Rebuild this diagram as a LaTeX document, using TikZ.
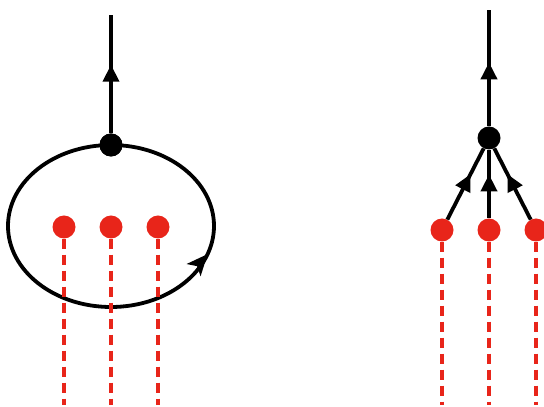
\documentclass[tikz,border=0pt]{standalone}
\usepackage{amsmath}
\usepackage{xcolor}
\usetikzlibrary{arrows.meta,decorations.markings}
\definecolor{cutred}{HTML}{E8251A}

\begin{document}
\begin{tikzpicture}[x=1pt,y=1pt,
  blackdot/.style={circle,fill=black,inner sep=0pt,minimum size=23pt},
  reddot/.style={circle,fill=cutred,inner sep=0pt,minimum size=23pt},
  cut/.style={cutred,line width=3.8pt,dash pattern=on 10pt off 6pt},
  midarrow/.style={decoration={markings,
      mark=at position #1 with {\arrow{Triangle[length=17pt,width=16pt]}}},
    postaction={decorate}},
  leg/.style={line width=3.8pt}]
\useasboundingbox (0,0) rectangle (544,407);
% left: loop around three cuts
\node[blackdot] (v) at (111,262) {};
\coordinate (top1) at (111,392);
\draw[leg,midarrow=0.58] (v) -- (top1);
\draw[leg,decoration={markings,
      mark=at position 0.70 with {\pgftransformrotate{-16}%
        \arrow{Stealth[length=21pt,width=18pt,inset=5pt]}}},
    postaction={decorate}]
  (v.center) arc[start angle=90,end angle=450,x radius=103,y radius=81];
\node[blackdot] at (v) {};
\foreach \i/\x in {1/64,2/111,3/158}{
  \node[reddot] (a\i) at (\x,180) {};
  \coordinate (ae\i) at (\x,2);
  \draw[cut] (a\i.south) -- (ae\i);
}
% right: three legs into one vertex
\node[blackdot] (w) at (489,269) {};
\coordinate (top2) at (489,397);
\draw[leg,midarrow=0.55] (w) -- (top2);
\foreach \i/\x in {1/442,2/489,3/536}{
  \node[reddot] (b\i) at (\x,177) {};
  \coordinate (be\i) at (\x,2);
  \draw[cut] (b\i.south) -- (be\i);
  \draw[leg,midarrow=0.64] (b\i) -- (w);
}
\end{tikzpicture}
\end{document}
